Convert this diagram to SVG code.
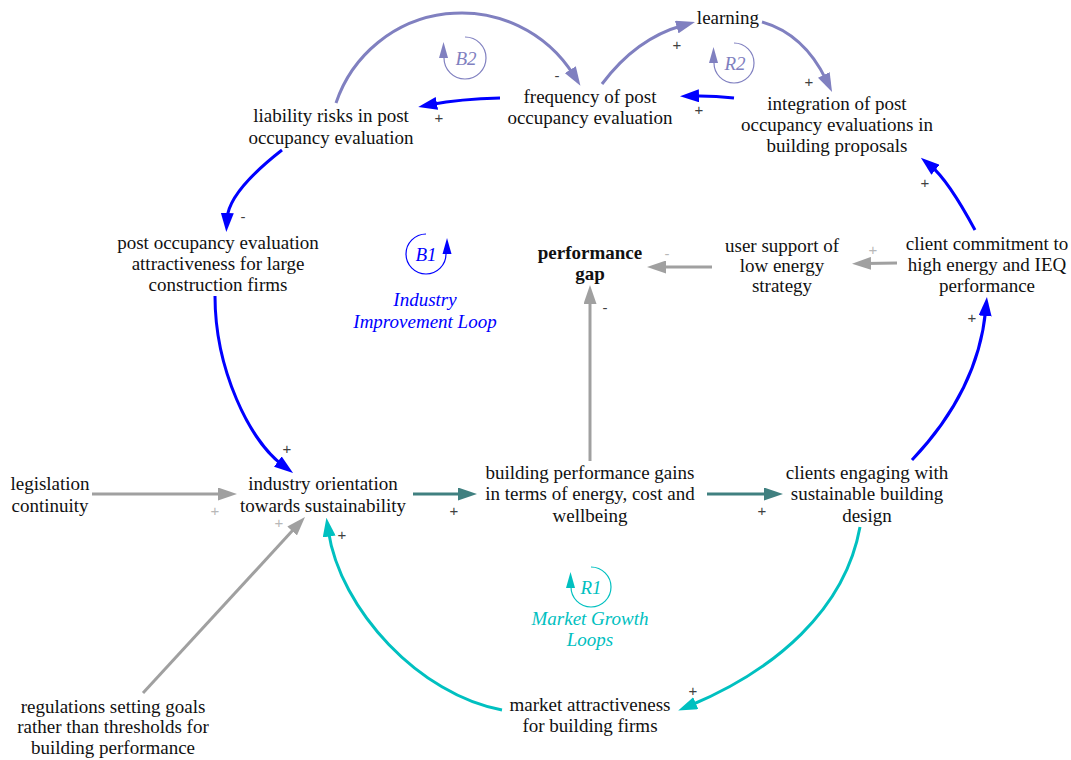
<svg xmlns="http://www.w3.org/2000/svg" width="1071" height="760" viewBox="0 0 1071 760">
<style>
.n{font-family:"Liberation Serif","Times New Roman",serif;font-size:19px;fill:#111;text-anchor:middle}
.b{font-weight:bold}
.lp{font-family:"Liberation Serif","Times New Roman",serif;font-size:19px;font-style:italic;text-anchor:middle}
.pol{font-family:"Liberation Sans",Arial,sans-serif;font-size:15px;fill:#404040;text-anchor:middle}
.pl{fill:#b8b8b8}
.c{fill:none;stroke-width:3}
.blue{stroke:#0000ff}
.pur{stroke:#8080c0}
.gray{stroke:#a0a0a0}
.teal{stroke:#408080}
.cyan{stroke:#00c0c0}
.ring{fill:none;stroke-width:1.2}
</style>
<defs>
<marker id="aBlue" viewBox="0 0 19 13" markerWidth="19" markerHeight="13" markerUnits="userSpaceOnUse" refX="6" refY="6.5" orient="auto"><path d="M0,0 L19,6.5 L0,13 z" fill="#0000ff"/></marker>
<marker id="aPur" viewBox="0 0 19 13" markerWidth="19" markerHeight="13" markerUnits="userSpaceOnUse" refX="6" refY="6.5" orient="auto"><path d="M0,0 L19,6.5 L0,13 z" fill="#8080c0"/></marker>
<marker id="aGray" viewBox="0 0 19 13" markerWidth="19" markerHeight="13" markerUnits="userSpaceOnUse" refX="6" refY="6.5" orient="auto"><path d="M0,0 L19,6.5 L0,13 z" fill="#a0a0a0"/></marker>
<marker id="aTeal" viewBox="0 0 19 13" markerWidth="19" markerHeight="13" markerUnits="userSpaceOnUse" refX="6" refY="6.5" orient="auto"><path d="M0,0 L19,6.5 L0,13 z" fill="#408080"/></marker>
<marker id="aCyan" viewBox="0 0 19 13" markerWidth="19" markerHeight="13" markerUnits="userSpaceOnUse" refX="6" refY="6.5" orient="auto"><path d="M0,0 L19,6.5 L0,13 z" fill="#00c0c0"/></marker>
</defs>
<rect width="1071" height="760" fill="#ffffff"/>

<g id="connectors">
<path class="c blue" d="M500,98 Q460,99 431,104.5" marker-end="url(#aBlue)"/>
<path class="c pur" d="M336,103 A132.4,132.4 0 0 1 573.5,74.8" marker-end="url(#aPur)"/>
<path class="c pur" d="M602,84 Q636,38.5 682.5,25.5" marker-end="url(#aPur)"/>
<path class="c pur" d="M762,22 Q804,34 826.4,80.3" marker-end="url(#aPur)"/>
<path class="c blue" d="M734,98 Q712,95.5 693,96" marker-end="url(#aBlue)"/>
<path class="c blue" d="M975,230 Q948,180 930.9,166" marker-end="url(#aBlue)"/>
<path class="c blue" d="M282,150 C250,175 228,200 227,219" marker-end="url(#aBlue)"/>
<path class="c blue" d="M215,296 C215,370 250,441 282.6,465.2" marker-end="url(#aBlue)"/>
<path class="c gray" d="M92,494 L224,494" marker-end="url(#aGray)"/>
<path class="c gray" d="M143,693 L296.2,526.6" marker-end="url(#aGray)"/>
<path class="c teal" d="M413,494 L464,494" marker-end="url(#aTeal)"/>
<path class="c teal" d="M707,494 L770,494" marker-end="url(#aTeal)"/>
<path class="c gray" d="M590,461 L590,298" marker-end="url(#aGray)"/>
<path class="c gray" d="M712,267 L660,267" marker-end="url(#aGray)"/>
<path class="c gray" d="M897,263 L865,263.5" marker-end="url(#aGray)"/>
<path class="c blue" d="M912,460 C950,420 980,370 985.7,310" marker-end="url(#aBlue)"/>
<path class="c cyan" d="M860,527 C845,610 775,670 690.2,705.5" marker-end="url(#aCyan)"/>
<path class="c cyan" d="M502,710 C420,695 340,610 328.3,530.6" marker-end="url(#aCyan)"/>
</g>

<g id="polarities">
<text class="pol" x="439" y="123">+</text>
<text class="pol" x="557" y="81">-</text>
<text class="pol" x="677" y="50">+</text>
<text class="pol" x="809" y="87">+</text>
<text class="pol" x="699" y="115">+</text>
<text class="pol" x="925" y="188">+</text>
<text class="pol" x="243" y="222">-</text>
<text class="pol" x="287" y="454">+</text>
<text class="pol pl" x="215" y="516">+</text>
<text class="pol pl" x="279" y="528">+</text>
<text class="pol" x="454" y="516">+</text>
<text class="pol" x="762" y="516">+</text>
<text class="pol" x="605" y="313">-</text>
<text class="pol pl" x="667" y="259">-</text>
<text class="pol pl" x="873" y="255">+</text>
<text class="pol" x="972" y="323">+</text>
<text class="pol" x="693" y="696">+</text>
<text class="pol" x="342" y="540">+</text>
</g>

<g id="loop-B2">
<path class="ring" stroke="#8080c0" d="M465,37 A21,21 0 1 1 444,58"/>
<polygon points="443.5,42 439,58 448,58" fill="#8080c0"/>
<text class="lp" x="466" y="65" fill="#8080c0">B2</text>
</g>
<g id="loop-R2">
<path class="ring" stroke="#8080c0" d="M734,43 A20,20 0 1 1 714,63"/>
<polygon points="713.5,47 709,63 718,63" fill="#8080c0"/>
<text class="lp" x="735" y="70" fill="#8080c0">R2</text>
</g>
<g id="loop-B1">
<path class="ring" stroke="#0000ff" d="M426,234 A20,20 0 1 0 446,254"/>
<polygon points="447,238 442.5,254 451.5,254" fill="#0000ff"/>
<text class="lp" x="426" y="261" fill="#0000ff">B1</text>
<text class="lp" x="425" y="306" fill="#0000ff">Industry</text>
<text class="lp" x="425" y="328" fill="#0000ff">Improvement Loop</text>
</g>
<g id="loop-R1">
<path class="ring" stroke="#00c0c0" d="M591,567 A20,20 0 1 1 571,587"/>
<polygon points="570.5,572 566,588 575,588" fill="#00c0c0"/>
<text class="lp" x="591" y="594" fill="#00c0c0">R1</text>
<text class="lp" x="590" y="625" fill="#00c0c0">Market Growth</text>
<text class="lp" x="590" y="646" fill="#00c0c0">Loops</text>
</g>

<g id="node-learning"><text class="n" x="728" y="24">learning</text></g>
<g id="node-frequency"><text class="n" x="590" y="103">frequency of post</text><text class="n" x="590" y="124">occupancy evaluation</text></g>
<g id="node-liability"><text class="n" x="331" y="122">liability risks in post</text><text class="n" x="331" y="144">occupancy evaluation</text></g>
<g id="node-integration"><text class="n" x="837" y="110">integration of post</text><text class="n" x="837" y="131">occupancy evaluations in</text><text class="n" x="837" y="152">building proposals</text></g>
<g id="node-poe-attractiveness"><text class="n" x="218" y="249">post occupancy evaluation</text><text class="n" x="218" y="270">attractiveness for large</text><text class="n" x="218" y="291">construction firms</text></g>
<g id="node-performance-gap"><text class="n b" x="590" y="259">performance</text><text class="n b" x="590" y="280">gap</text></g>
<g id="node-user-support"><text class="n" x="782" y="252">user support of</text><text class="n" x="782" y="272">low energy</text><text class="n" x="782" y="292">strategy</text></g>
<g id="node-client-commitment"><text class="n" x="987" y="250">client commitment to</text><text class="n" x="987" y="271">high energy and IEQ</text><text class="n" x="987" y="292">performance</text></g>
<g id="node-legislation"><text class="n" x="50" y="490">legislation</text><text class="n" x="50" y="512">continuity</text></g>
<g id="node-industry-orientation"><text class="n" x="323" y="490">industry orientation</text><text class="n" x="323" y="512">towards sustainability</text></g>
<g id="node-building-gains"><text class="n" x="590" y="479">building performance gains</text><text class="n" x="590" y="500">in terms of energy, cost and</text><text class="n" x="590" y="522">wellbeing</text></g>
<g id="node-clients-engaging"><text class="n" x="867" y="479">clients engaging with</text><text class="n" x="867" y="500">sustainable building</text><text class="n" x="867" y="522">design</text></g>
<g id="node-market"><text class="n" x="590" y="711">market attractiveness</text><text class="n" x="590" y="732">for building firms</text></g>
<g id="node-regulations"><text class="n" x="113" y="713">regulations setting goals</text><text class="n" x="113" y="733">rather than thresholds for</text><text class="n" x="113" y="754">building performance</text></g>
</svg>
